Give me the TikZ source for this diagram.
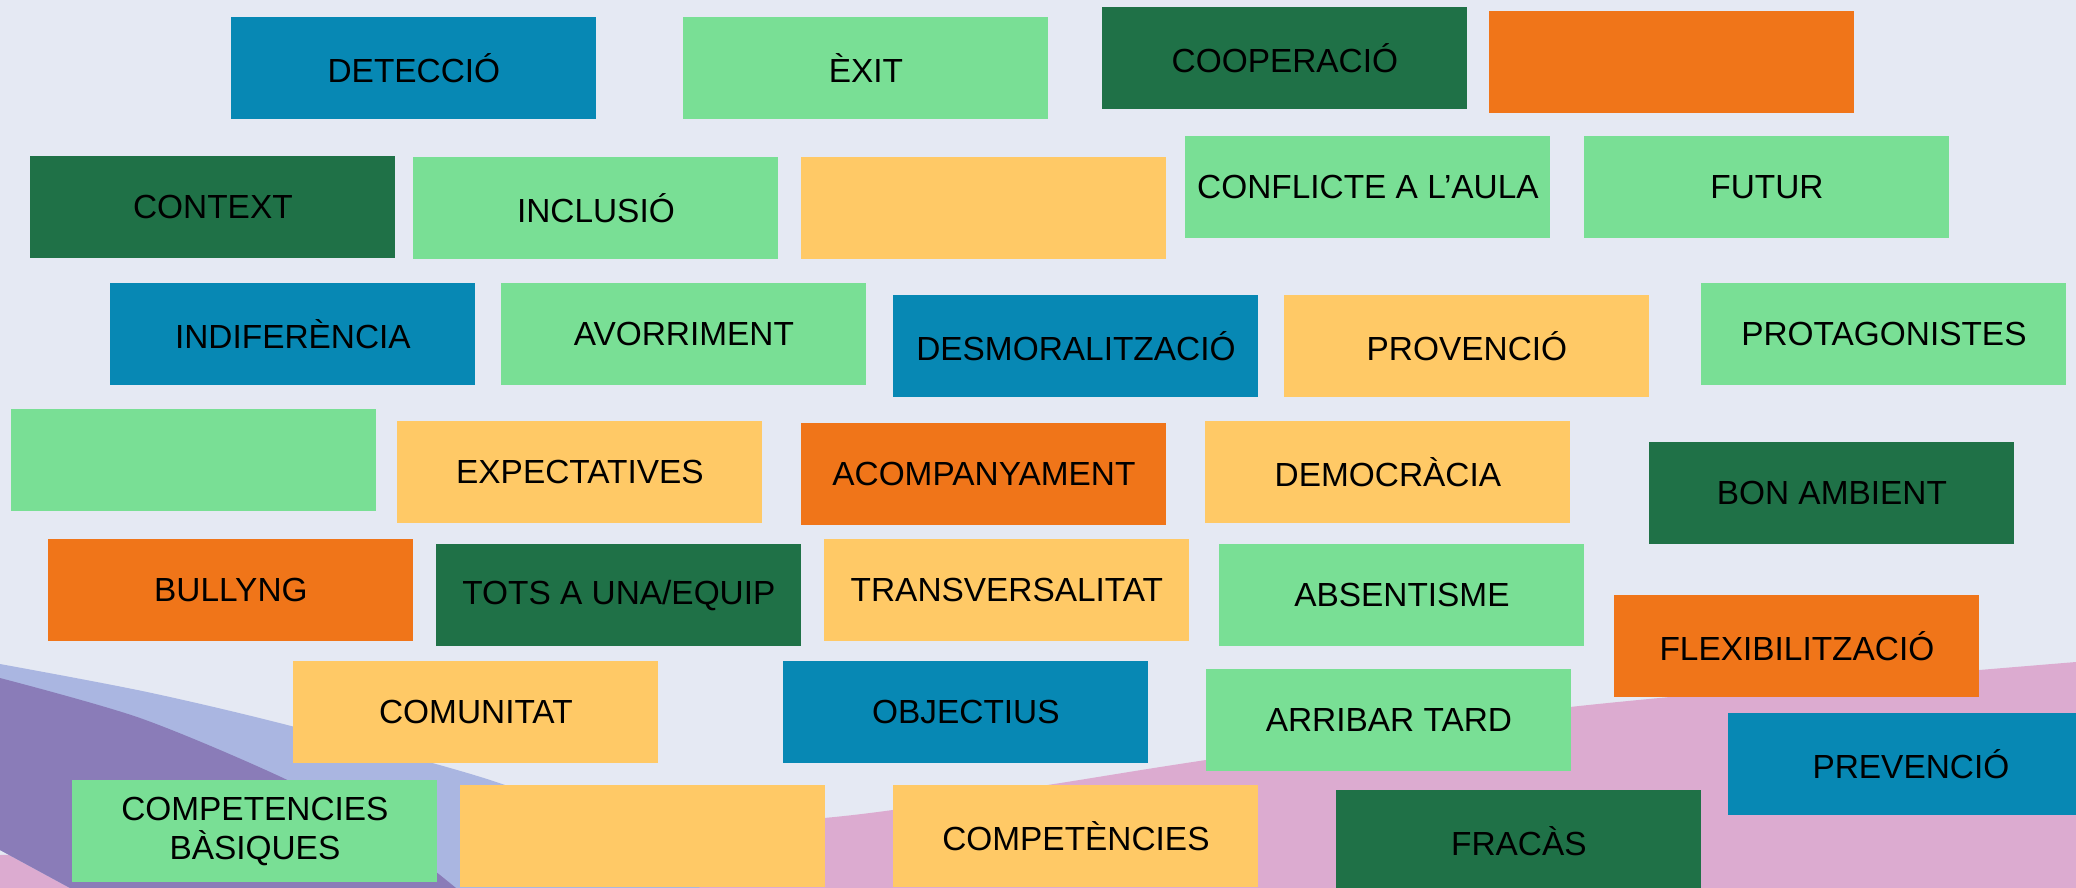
\documentclass[tikz,border=0pt]{standalone}
\usepackage{fontspec}
\setmainfont{Liberation Sans}
\definecolor{fons}{HTML}{E5E9F3}
\definecolor{rosa}{HTML}{DCABD0}
\definecolor{lila}{HTML}{AAB6E1}
\definecolor{morat}{HTML}{8A7CB8}
\definecolor{blau}{HTML}{0788B4}
\definecolor{verdclar}{HTML}{79DF95}
\definecolor{verdfosc}{HTML}{1F7147}
\definecolor{taronja}{HTML}{F07519}
\definecolor{groc}{HTML}{FFC966}

\begin{document}
\begin{tikzpicture}[x=0.5pt, y=-0.5pt,
    card/.style = {anchor=north west, minimum width=182.5pt, minimum height=51pt, inner sep=0pt, align=center, font=\fontsize{16.7}{19.5}\selectfont},
    cblue/.style = {card, fill=blau},
    clight/.style = {card, fill=verdclar},
    cdark/.style = {card, fill=verdfosc},
    corange/.style = {card, fill=taronja},
    cyellow/.style = {card, fill=groc}]
    \useasboundingbox (0,0) rectangle (2076,888);
    \clip (0,0) rectangle (2076,888);
    \fill[fons] (0,0) rectangle (2076,888);
    \fill[rosa] plot[smooth] coordinates {(0,855) (420,843) (824,818) (1041,786) (1206,760) (1570,707) (2076,662)} -- (2076,888) -- (0,888) -- cycle;
    \fill[lila] plot[smooth] coordinates {(0,664) (147,692) (295,727) (505,785) (640,850) (700,888)} -- (70,888) -- (0,850) -- cycle;
    \fill[morat] plot[smooth] coordinates {(0,678) (140,718) (281,777) (380,830) (456,888)} -- (70,888) -- (0,850) -- cycle;

    \node[cblue] (detec) at (231,17) {DETECCIÓ};
    \node[clight] (exit) at (683,17) {ÈXIT};
    \node[cdark] (coop) at (1102,7) {COOPERACIÓ};
    \node[corange] (buit1) at (1489,11) {};

    \node[cdark] (context) at (30,156) {CONTEXT};
    \node[clight] (inclus) at (413,157) {INCLUSIÓ};
    \node[cyellow] (buit2) at (801,157) {};
    \node[clight] (confl) at (1185,136) {CONFLICTE A L’AULA};
    \node[clight] (futur) at (1584,136) {FUTUR};

    \node[cblue] (indif) at (110,283) {INDIFERÈNCIA};
    \node[clight] (avorr) at (501,283) {AVORRIMENT};
    \node[cblue] (desmor) at (893,295) {DESMORALITZACIÓ};
    \node[cyellow] (provenc) at (1284,295) {PROVENCIÓ};
    \node[clight] (protag) at (1701,283) {PROTAGONISTES};

    \node[clight] (buit3) at (11,409) {};
    \node[cyellow] (expect) at (397,421) {EXPECTATIVES};
    \node[corange] (acomp) at (801,423) {ACOMPANYAMENT};
    \node[cyellow] (democ) at (1205,421) {DEMOCRÀCIA};
    \node[cdark] (ambient) at (1649,442) {BON AMBIENT};

    \node[corange] (bully) at (48,539) {BULLYNG};
    \node[cdark] (equip) at (436,544) {TOTS A UNA/EQUIP};
    \node[cyellow] (transv) at (824,539) {TRANSVERSALITAT};
    \node[clight] (absent) at (1219,544) {ABSENTISME};
    \node[corange] (flexib) at (1614,595) {FLEXIBILITZACIÓ};

    \node[cyellow] (comun) at (293,661) {COMUNITAT};
    \node[cblue] (object) at (783,661) {OBJECTIUS};
    \node[clight] (tard) at (1206,669) {ARRIBAR TARD};
    \node[cblue] (prevenc) at (1728,713) {PREVENCIÓ};

    \node[clight] (basiq) at (72,780) {COMPETENCIES\\BÀSIQUES};
    \node[cyellow] (buit4) at (460,785) {};
    \node[cyellow] (compet) at (893,785) {COMPETÈNCIES};
    \node[cdark] (fracas) at (1336,790) {FRACÀS};
\end{tikzpicture}
\end{document}
